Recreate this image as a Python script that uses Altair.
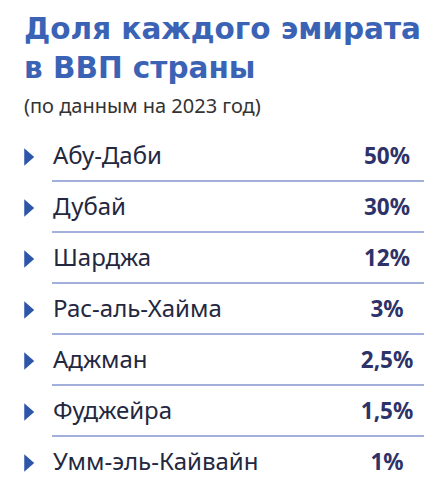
import altair as alt
import pandas as pd

emirates = ["Абу-Даби", "Дубай", "Шарджа", "Рас-аль-Хайма", "Аджман", "Фуджейра", "Умм-эль-Кайвайн"]
shares = [50, 30, 12, 3, 2.5, 1.5, 1]

title_lines = ["Доля каждого эмирата", "в ВВП страны"]
subtitle_text = "(по данным на 2023 год)"

df = pd.DataFrame({
    "emirate": emirates,
    "share": shares,
    "label": [f"{v:g}".replace(".", ",") + "%" for v in shares],
    "order": list(range(len(emirates))),
})
df["has_line"] = df["order"] < len(emirates) - 1

FONT = "Noto Sans"
TITLE_FONT = "DejaVu Sans"

y_enc = alt.Y("emirate:N", sort=emirates, axis=None,
              scale=alt.Scale(type="point", padding=0.5))

base = alt.Chart(df)

tri = base.mark_point(
    shape="M-0.55,-1L0.6,0L-0.55,1Z", filled=True, opacity=1,
    color="#2d56a9", size=300, strokeWidth=0
).encode(x=alt.value(21), y=y_enc)

names = base.mark_text(
    align="left", baseline="middle", font=FONT, fontSize=24,
    color="#24283f", dy=0
).encode(x=alt.value(45), y=y_enc, text="emirate:N")

vals = base.mark_text(
    align="center", baseline="middle", font=FONT, fontSize=22.5,
    fontWeight="bold", color="#2d3268", dy=0
).encode(x=alt.value(379), y=y_enc, text="label:N")

lines = base.transform_filter("datum.has_line").mark_rule(
    color="#8596d0", strokeWidth=1.6, yOffset=24
).encode(x=alt.value(44), x2=alt.value(416), y=y_enc)

chart = alt.layer(lines, tri, names, vals).properties(
    width=427, height=357,
    title=alt.TitleParams(
        text=title_lines, subtitle=subtitle_text, anchor="start",
        font=TITLE_FONT, fontSize=29.5, fontWeight="bold", color="#3b63b5",
        lineHeight=39, subtitleFont=FONT, subtitleFontSize=20,
        subtitleColor="#333333", subtitlePadding=12, offset=14, dx=16,
    ),
    padding={"left": 0, "right": 0, "top": 123.5, "bottom": 0},
    autosize=alt.AutoSizeParams(type="none"),
).configure_view(stroke=None)

chart.save("out.html", embed_options={"renderer": "svg", "actions": False})
